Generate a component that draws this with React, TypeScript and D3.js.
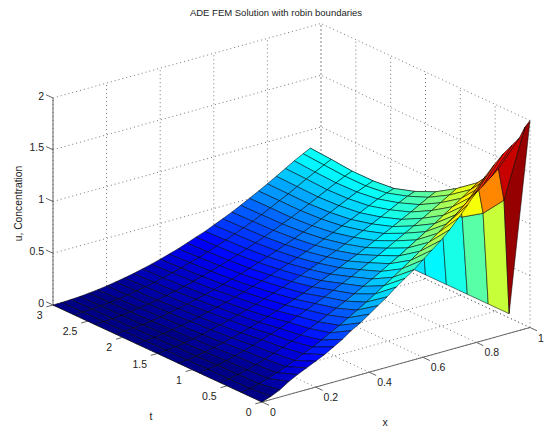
import React from 'react'
import * as d3 from 'd3'

const W = 545
const H = 427

const titleText = 'ADE FEM Solution with robin boundaries'

const xTicks = [0, 0.2, 0.4, 0.6, 0.8, 1]
const tTicks = [0, 0.5, 1, 1.5, 2, 2.5, 3]
const zTicks = [0, 0.5, 1, 1.5, 2]

// mesh nodes
const xNodes = [
  0, 0.033, 0.067, 0.1, 0.133, 0.167, 0.2, 0.233, 0.267, 0.3, 0.333, 0.367, 0.4, 0.433, 0.467, 0.5,
  0.533, 0.567, 0.6, 0.633, 0.667, 0.7, 0.733, 0.767, 0.8, 0.833, 0.867, 0.9, 0.933, 0.96, 0.981, 1,
]
const tNodes = [0, 0.3, 0.6, 0.9, 1.2, 1.5, 1.8, 2.1, 2.4, 2.7, 3]

// u per time row
const uT00 = [0, 0.03, 0.07, 0.125, 0.17, 0.21, 0.25, 0.29, 0.34, 0.39, 0.45, 0.5, 0.56, 0.62, 0.68, 0.75, 0.81, 0.87, 0.94, 1.01, 1.08, 1.16, 1.25, 1.35, 1.46, 1.58, 1.67, 1.75, 1.81, 1.86, 1.95, 2]
const uT03 = [0, 0.013, 0.035, 0.062, 0.093, 0.127, 0.163, 0.205, 0.245, 0.288, 0.335, 0.382, 0.432, 0.482, 0.535, 0.59, 0.646, 0.703, 0.761, 0.82, 0.882, 0.945, 1.008, 1.074, 1.138, 1.205, 1.274, 1.343, 1.41, 1.47, 1.15, 0.04]
const uT06 = [0, 0.011, 0.03, 0.052, 0.078, 0.107, 0.138, 0.172, 0.207, 0.243, 0.283, 0.322, 0.365, 0.407, 0.451, 0.497, 0.546, 0.593, 0.642, 0.693, 0.744, 0.797, 0.851, 0.906, 0.96, 1.017, 1.075, 1.133, 1.192, 1.24, 0.93, 0.04]
const uT09 = [0, 0.01, 0.026, 0.046, 0.069, 0.094, 0.121, 0.152, 0.182, 0.214, 0.249, 0.283, 0.32, 0.358, 0.397, 0.437, 0.48, 0.521, 0.565, 0.609, 0.654, 0.701, 0.748, 0.797, 0.844, 0.894, 0.945, 0.996, 1.047, 1.09, 0.8, 0.04]
const uT12 = [0, 0.007, 0.02, 0.037, 0.055, 0.077, 0.099, 0.126, 0.151, 0.179, 0.21, 0.242, 0.273, 0.307, 0.34, 0.377, 0.414, 0.452, 0.491, 0.531, 0.571, 0.613, 0.657, 0.701, 0.744, 0.79, 0.836, 0.884, 0.931, 0.965, 0.74, 0.04]
const uT15 = [0, 0.006, 0.016, 0.03, 0.046, 0.064, 0.085, 0.107, 0.131, 0.156, 0.182, 0.211, 0.24, 0.271, 0.303, 0.335, 0.369, 0.404, 0.44, 0.477, 0.514, 0.554, 0.595, 0.636, 0.676, 0.719, 0.764, 0.808, 0.848, 0.875, 0.69, 0.04]
const uT18 = [0, 0.005, 0.013, 0.025, 0.039, 0.055, 0.073, 0.093, 0.115, 0.137, 0.161, 0.187, 0.213, 0.242, 0.271, 0.302, 0.334, 0.367, 0.4, 0.436, 0.471, 0.509, 0.547, 0.587, 0.625, 0.666, 0.709, 0.751, 0.785, 0.81, 0.65, 0.04]
const uT21 = [0, 0.003, 0.01, 0.019, 0.032, 0.045, 0.061, 0.079, 0.098, 0.119, 0.141, 0.165, 0.192, 0.219, 0.246, 0.275, 0.307, 0.339, 0.373, 0.408, 0.444, 0.481, 0.519, 0.56, 0.599, 0.641, 0.684, 0.725, 0.76, 0.79, 0.63, 0.04]
const uT24 = [0, 0.002, 0.007, 0.015, 0.026, 0.038, 0.052, 0.069, 0.086, 0.105, 0.127, 0.151, 0.176, 0.202, 0.23, 0.259, 0.289, 0.322, 0.356, 0.391, 0.428, 0.466, 0.505, 0.548, 0.588, 0.632, 0.677, 0.72, 0.76, 0.79, 0.63, 0.04]
const uT27 = [0, 0.002, 0.006, 0.012, 0.022, 0.032, 0.046, 0.061, 0.077, 0.096, 0.117, 0.14, 0.164, 0.191, 0.217, 0.247, 0.279, 0.313, 0.348, 0.384, 0.422, 0.462, 0.505, 0.549, 0.591, 0.638, 0.687, 0.73, 0.775, 0.81, 0.64, 0.04]
const uT30 = [0, 0.001, 0.005, 0.01, 0.018, 0.028, 0.04, 0.054, 0.07, 0.088, 0.108, 0.13, 0.154, 0.18, 0.207, 0.239, 0.272, 0.303, 0.34, 0.377, 0.417, 0.459, 0.503, 0.549, 0.595, 0.644, 0.695, 0.745, 0.79, 0.825, 0.66, 0.04]
const uRows = [uT00, uT03, uT06, uT09, uT12, uT15, uT18, uT21, uT24, uT27, uT30]

// orthographic projection, one scale per data axis
const xToPx = d3.scaleLinear().domain([0, 1]).range([0, 268])
const xToPy = d3.scaleLinear().domain([0, 1]).range([0, -74.5])
const tToPx = d3.scaleLinear().domain([0, 3]).range([0, -209])
const tToPy = d3.scaleLinear().domain([0, 3]).range([0, -97])
const zToPy = d3.scaleLinear().domain([0, 2]).range([0, -207])

const project = (x: number, t: number, z: number): [number, number] => [
  262 + xToPx(x) + tToPx(t),
  402 + xToPy(x) + tToPy(t) + zToPy(z),
]

const jet = (u: number) => {
  const v = (Math.min(63, Math.floor((u / 2) * 64)) + 0.5) / 64
  const c = (a: number) => Math.round(255 * Math.max(0, Math.min(1, a)))
  return d3.rgb(c(Math.min(4 * v - 1.5, -4 * v + 4.5)), c(Math.min(4 * v - 0.5, -4 * v + 3.5)), c(Math.min(4 * v + 0.5, -4 * v + 2.5))).formatHex()
}

const pathOf = d3.line()
const seg = (a: [number, number, number], b: [number, number, number]) => pathOf([project(...a), project(...b)]) as string

// back to front so nearer quads cover farther ones
const faces: { d: string; fill: string }[] = []
for (let j = tNodes.length - 2; j >= 0; j--) {
  for (let i = xNodes.length - 2; i >= 0; i--) {
    const corners = [
      project(xNodes[i], tNodes[j], uRows[j][i]),
      project(xNodes[i + 1], tNodes[j], uRows[j][i + 1]),
      project(xNodes[i + 1], tNodes[j + 1], uRows[j + 1][i + 1]),
      project(xNodes[i], tNodes[j + 1], uRows[j + 1][i]),
    ]
    faces.push({ d: pathOf(corners) + 'Z', fill: jet(uRows[j][i]) })
  }
}

const gridLines = [
  ...xTicks.map((x) => seg([x, 0, 0], [x, 3, 0])),
  ...tTicks.map((t) => seg([0, t, 0], [1, t, 0])),
  ...xTicks.map((x) => seg([x, 3, 0], [x, 3, 2])),
  ...tTicks.map((t) => seg([1, t, 0], [1, t, 2])),
  ...zTicks.map((z) => seg([0, 3, z], [1, 3, z])),
  ...zTicks.map((z) => seg([1, 0, z], [1, 3, z])),
]

const axisLines = [seg([0, 3, 0], [0, 3, 2]), seg([0, 3, 0], [0, 0, 0]), seg([0, 0, 0], [1, 0, 0])]

const tickLines = [
  ...xTicks.map((x) => seg([x, 0, 0], [x, -0.1, 0])),
  ...tTicks.map((t) => seg([0, t, 0], [-0.025, t, 0])),
  ...zTicks.map((z) => seg([0, 3, z], [0, 3.1, z])),
]

const font = 'Liberation Sans, Arial, sans-serif'

export default function App() {
  return (
    <svg width={W} height={H} style={{ position: 'absolute', left: 0, top: 0, background: '#fff' }} fontFamily={font} fontSize={10.5} fill="#222">
      <g fill="none" stroke="#666" strokeWidth={0.9} strokeDasharray="1 3">
        {gridLines.map((d, i) => (
          <path key={i} d={d} />
        ))}
      </g>
      <g fill="none" stroke="#666" strokeWidth={1}>
        {axisLines.map((d, i) => (
          <path key={i} d={d} />
        ))}
        {tickLines.map((d, i) => (
          <path key={i} d={d} />
        ))}
      </g>
      <g stroke="#000" strokeWidth={0.7} strokeOpacity={0.75} strokeLinejoin="round">
        {faces.map((f, i) => (
          <path key={i} d={f.d} fill={f.fill} />
        ))}
      </g>
      <text x={276} y={16} textAnchor="middle" fontSize={9.5}>{titleText}</text>
      {zTicks.map((z) => {
        const [px, py] = project(0, 3, z)
        return <text key={z} x={px - 9} y={py + 1.5} textAnchor="end">{z}</text>
      })}
      {tTicks.map((t) => {
        const [px, py] = project(0, t, 0)
        return <text key={t} x={px - 10.5} y={py + 14} textAnchor="end">{t}</text>
      })}
      {xTicks.map((x) => {
        const [px, py] = project(x, 0, 0)
        return <text key={x} x={px + 8} y={py + 14} textAnchor="start">{x}</text>
      })}
      <text x={151} y={420} textAnchor="middle">t</text>
      <text x={385} y={426} textAnchor="middle">x</text>
      <text transform="translate(22,203.5) rotate(-90)" textAnchor="middle" fontSize={10.3}>u, Concentration</text>
    </svg>
  )
}
